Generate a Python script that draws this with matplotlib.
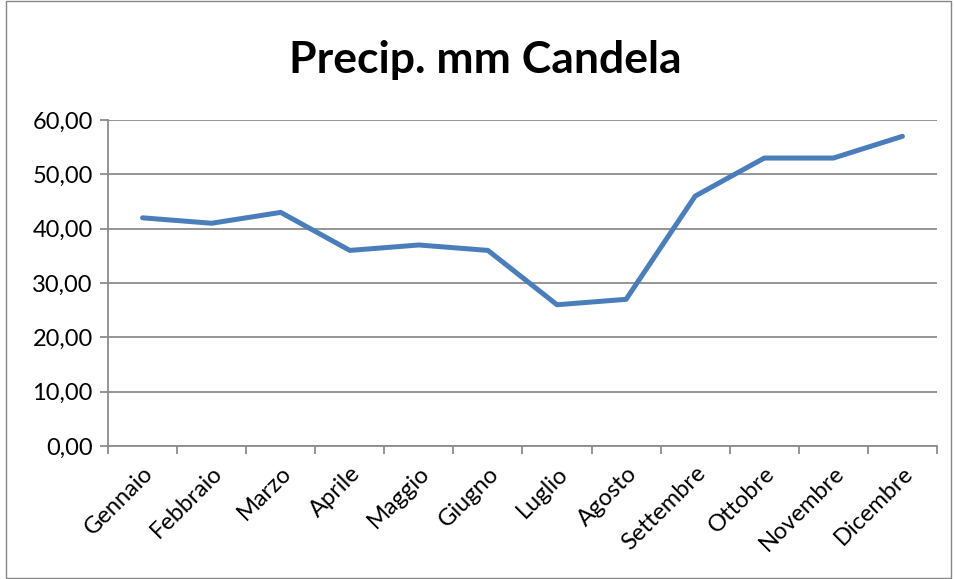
import matplotlib
matplotlib.use("Agg")
from matplotlib import pyplot as plt
from matplotlib.patches import Rectangle

mesi = ['Gennaio', 'Febbraio', 'Marzo', 'Aprile', 'Maggio', 'Giugno',
        'Luglio', 'Agosto', 'Settembre', 'Ottobre', 'Novembre', 'Dicembre']
precip = [42, 41, 43, 36, 37, 36, 26, 27, 46, 53, 53, 57]
yticks = [0, 10, 20, 30, 40, 50, 60]

plt.rcParams['font.family'] = ['Lato', 'DejaVu Sans']

fig = plt.figure(figsize=(9.55, 5.79), dpi=100)
# cornice grigia del grafico
fig.patches.append(Rectangle((0.006, 0.002), 0.99, 0.996, transform=fig.transFigure,
                             fill=False, edgecolor='#868686', linewidth=1))
ax = fig.add_axes([0.1131, 0.2297, 0.868, 0.563])

x = list(range(len(mesi)))
ax.plot(x, precip, color='#4A7EBB', linewidth=3.6, solid_capstyle='round',
        solid_joinstyle='round', zorder=3)

ax.set_xlim(-0.5, len(mesi) - 0.5)
ax.set_ylim(0, 60)
ax.set_yticks(yticks)
ax.set_yticklabels(['%d,00' % v for v in yticks])
ax.yaxis.grid(True, color='#8C8C8C', linewidth=1.3)
ax.set_axisbelow(True)

ax.set_xticks([i - 0.5 for i in range(len(mesi) + 1)])
ax.set_xticklabels([])
ax.set_xticks(x, minor=True)
ax.set_xticklabels(mesi, minor=True, rotation=45, ha='right', rotation_mode='anchor')
ax.tick_params(axis='x', which='minor', length=0, pad=12)
ax.tick_params(axis='x', which='major', length=6, width=1.3, color='#8C8C8C')
ax.tick_params(axis='y', length=6, width=1.3, color='#8C8C8C', pad=5)
ax.tick_params(which='both', labelsize=17)

for s in ['top', 'right']:
    ax.spines[s].set_visible(False)
for s in ['left', 'bottom']:
    ax.spines[s].set_color('#8C8C8C')
    ax.spines[s].set_linewidth(1.3)

fig.text(0.508, 0.897, 'Precip. mm Candela', ha='center', va='center',
         fontsize=32, fontweight='bold')

fig.savefig('out.png', dpi=100)
